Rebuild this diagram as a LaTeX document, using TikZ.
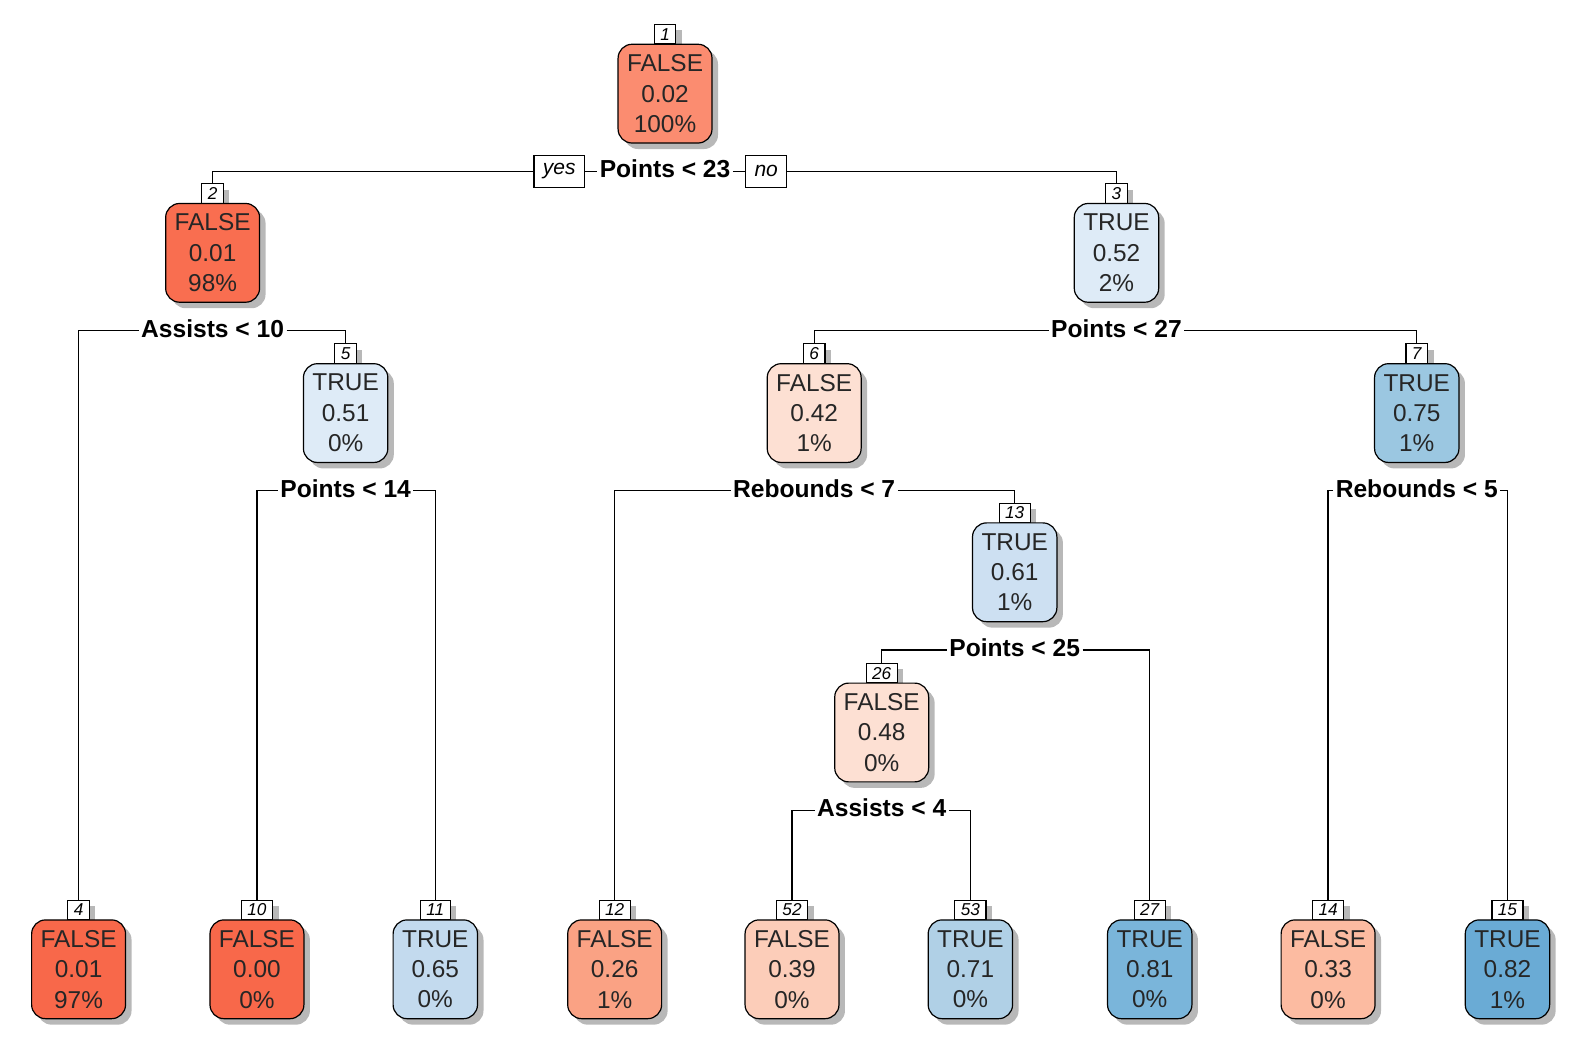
\documentclass[tikz,border=0pt]{standalone}
\usepackage{fontspec}
\setmainfont{Liberation Sans}
\usetikzlibrary{positioning,shadows}

\definecolor{fA}{RGB}{248,104,74}
\definecolor{fB}{RGB}{249,110,80}
\definecolor{fC}{RGB}{251,140,112}
\definecolor{fD}{RGB}{250,162,132}
\definecolor{fE}{RGB}{252,187,161}
\definecolor{fF}{RGB}{252,205,185}
\definecolor{fG}{RGB}{253,224,211}
\definecolor{tA}{RGB}{222,235,247}
\definecolor{tB}{RGB}{205,224,242}
\definecolor{tC}{RGB}{195,218,238}
\definecolor{tD}{RGB}{176,208,230}
\definecolor{tE}{RGB}{155,199,225}
\definecolor{tF}{RGB}{122,181,218}
\definecolor{tG}{RGB}{106,171,213}

\begin{document}
\begin{tikzpicture}[x=0.504pt,y=-0.504pt,line width=0.6pt,
  leaf/.style={draw,rounded corners=7pt,align=center,minimum height=49.4pt,
    inner xsep=4.5pt,text=black!85,font=\fontsize{12.2}{15.2}\selectfont,
    drop shadow={shadow xshift=3pt,shadow yshift=-3pt,fill=black!35,opacity=0.8}},
  num/.style={draw,fill=white,font=\fontsize{8.6}{8.6}\selectfont\itshape,
    minimum height=9.8pt,inner xsep=3pt,inner ysep=0pt,
    drop shadow={shadow xshift=3pt,shadow yshift=-3pt,fill=black!35,opacity=0.8}},
  split/.style={font=\fontsize{12.3}{12.3}\selectfont\bfseries,inner sep=1pt,
    text height=9pt,text depth=2.5pt},
  yesno/.style={draw,fill=white,font=\fontsize{10.5}{10.5}\selectfont\itshape,
    minimum height=16pt,inner xsep=4.5pt}]
  \useasboundingbox (0,0) rectangle (1568,1049);

  % root
  \node[num] (b1) at (660,34) {1};
  \node[leaf,fill=fC,below=-0.5pt of b1] (n1) {FALSE\\0.02\\100\%};
  \node[split,below=6.85pt of n1] (s1) {Points < 23};
  \node[yesno,left=6pt of s1] (yes) {yes};
  \node[yesno,right=6pt of s1] (no) {no};

  % inner nodes
  \node[num] (b2) at (211,192) {2};
  \node[leaf,fill=fB,below=-0.5pt of b2] (n2) {FALSE\\0.01\\98\%};
  \node[split,below=6.85pt of n2] (s2) {Assists < 10};
  \node[num] (b3) at (1108,192) {3};
  \node[leaf,fill=tA,below=-0.5pt of b3] (n3) {TRUE\\0.52\\2\%};
  \node[split,below=6.85pt of n3] (s3) {Points < 27};
  \node[num] (b5) at (343,351) {5};
  \node[leaf,fill=tA,below=-0.5pt of b5] (n5) {TRUE\\0.51\\0\%};
  \node[split,below=6.85pt of n5] (s5) {Points < 14};
  \node[num] (b6) at (808,351) {6};
  \node[leaf,fill=fG,below=-0.5pt of b6] (n6) {FALSE\\0.42\\1\%};
  \node[split,below=6.85pt of n6] (s6) {Rebounds < 7};
  \node[num] (b7) at (1406,351) {7};
  \node[leaf,fill=tE,below=-0.5pt of b7] (n7) {TRUE\\0.75\\1\%};
  \node[split,below=6.85pt of n7] (s7) {Rebounds < 5};
  \node[num] (b13) at (1007,509) {13};
  \node[leaf,fill=tB,below=-0.5pt of b13] (n13) {TRUE\\0.61\\1\%};
  \node[split,below=6.85pt of n13] (s13) {Points < 25};
  \node[num] (b26) at (875,668) {26};
  \node[leaf,fill=fG,below=-0.5pt of b26] (n26) {FALSE\\0.48\\0\%};
  \node[split,below=6.85pt of n26] (s26) {Assists < 4};

  % leaves
  \node[num] (b4) at (78,903) {4};
  \node[leaf,fill=fA,below=-0.5pt of b4] (n4) {FALSE\\0.01\\97\%};
  \node[num] (b10) at (255,903) {10};
  \node[leaf,fill=fA,below=-0.5pt of b10] (n10) {FALSE\\0.00\\0\%};
  \node[num] (b11) at (432,903) {11};
  \node[leaf,fill=tC,below=-0.5pt of b11] (n11) {TRUE\\0.65\\0\%};
  \node[num] (b12) at (610,903) {12};
  \node[leaf,fill=fD,below=-0.5pt of b12] (n12) {FALSE\\0.26\\1\%};
  \node[num] (b52) at (786,903) {52};
  \node[leaf,fill=fF,below=-0.5pt of b52] (n52) {FALSE\\0.39\\0\%};
  \node[num] (b53) at (963,903) {53};
  \node[leaf,fill=tD,below=-0.5pt of b53] (n53) {TRUE\\0.71\\0\%};
  \node[num] (b27) at (1141,903) {27};
  \node[leaf,fill=tF,below=-0.5pt of b27] (n27) {TRUE\\0.81\\0\%};
  \node[num] (b14) at (1318,903) {14};
  \node[leaf,fill=fE,below=-0.5pt of b14] (n14) {FALSE\\0.33\\0\%};
  \node[num] (b15) at (1496,903) {15};
  \node[leaf,fill=tG,below=-0.5pt of b15] (n15) {TRUE\\0.82\\1\%};

  % branches
  \draw (yes.west) -| (b2.north);
  \draw (yes.east) -- (s1.west);
  \draw (s1.east) -- (no.west);
  \draw (no.east) -| (b3.north);
  \foreach \s/\l/\r in {2/4/5,3/6/7,5/10/11,6/12/13,7/14/15,13/26/27,26/52/53}{
    \draw (s\s.west) -| (b\l.north);
    \draw (s\s.east) -| (b\r.north);
  }
\end{tikzpicture}
\end{document}
